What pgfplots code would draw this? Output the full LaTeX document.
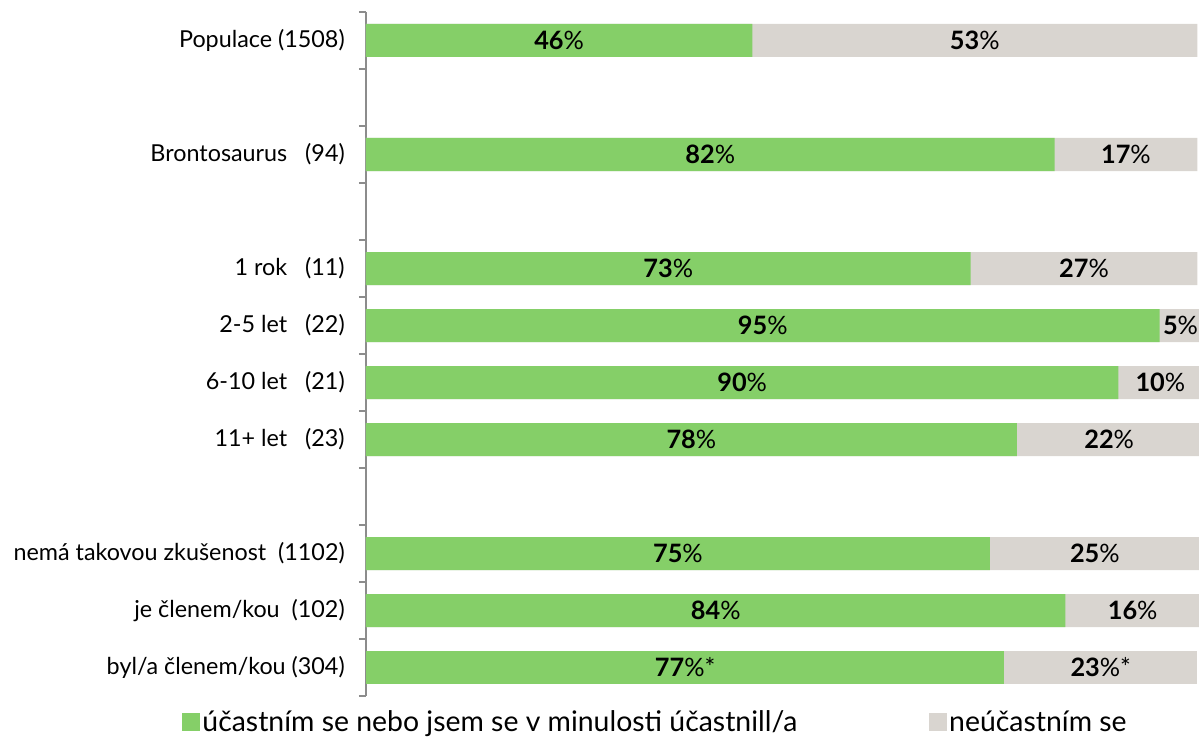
\documentclass[border=0pt]{standalone}
\usepackage{fontspec}
\setmainfont{Lato}
\usepackage{pgfplots}
\usepackage{pgfplotstable}
\pgfplotsset{compat=1.18}
\definecolor{cgreen}{RGB}{133,207,104}
\definecolor{cgray}{RGB}{217,213,208}
\definecolor{caxis}{RGB}{140,140,140}

% y = row position, g/r = bar lengths, gl/rl = printed labels
\pgfplotstableread{
y g r gl rl
0 46.0 53 46 53
2 82.0 17 82 17
4 72.0 27 73 27
5 94.5 5 95 5
6 89.6 10 90 10
7 77.5 22 78 22
9 74.3 25 75 25
10 83.3 16 84 16
}\data
% the row marked with an asterisk
\pgfplotstableread{
y g r gl rl
11 76.0 23 77 23
}\datastar

\begin{document}
\begin{tikzpicture}
\useasboundingbox (-274.5pt,-31.5pt) rectangle (624.75pt,522pt);
\begin{axis}[at={(0,0)}, anchor=south west, scale only axis,
  width=624.75pt, height=513pt,
  xmin=0, xmax=99.2, ymin=-0.5, ymax=11.5, y dir=reverse,
  axis x line=none, axis y line*=left,
  ytick={0,2,4,5,6,7,9,10,11},
  yticklabels={Populace (1508), Brontosaurus\ \ \ (94), 1 rok\ \ \ (11), 2-5 let\ \ \ (22), 6-10 let\ \ \ (21), 11+ let\ \ \ (23), nemá takovou zkušenost\ \ (1102), je členem/kou\ \ (102), byl/a členem/kou (304)},
  minor ytick={-0.5,0.5,...,11.5},
  major tick length=0pt, minor tick length=5.25pt, tick align=outside,
  y axis line style={draw=caxis, line width=1.1pt},
  every tick/.style={draw=caxis, line width=1.1pt},
  yticklabel style={font=\fontsize{17.5}{20}\selectfont, anchor=east, inner sep=0pt, xshift=-15.75pt},
  legend style={at={(0.348,-0.038)}, anchor=center, legend columns=2, draw=none, fill=none,
    font=\fontsize{21.3}{25}\selectfont,
    /tikz/every even column/.append style={column sep=97pt}},
  legend image code/.code={\fill[#1] (0pt,-6.6pt) rectangle (13pt,6.6pt);},
  mybar/.style={xbar, bar shift=0pt, bar width=24.75pt, draw=none},
  mylab/.style={only marks, mark=none, point meta=explicit,
    nodes near coords={\textbf{\pgfmathprintnumber[assume math mode=true]{\pgfplotspointmeta}}\%#1},
    every node near coord/.append style={anchor=center, font=\fontsize{19}{22}\selectfont}},
]
\addlegendimage{fill=cgreen, draw=none}
\addlegendentry{účastním se nebo jsem se v minulosti účastnill/a}
\addlegendimage{fill=cgray, draw=none}
\addlegendentry{neúčastním se}
% green segment from 0 to g, grey segment from g to g+r
\addplot[mybar, fill=cgray, forget plot] table[x expr=\thisrow{g}+\thisrow{r}, y=y] {\data};
\addplot[mybar, fill=cgray, forget plot] table[x expr=\thisrow{g}+\thisrow{r}, y=y] {\datastar};
\addplot[mybar, fill=cgreen, forget plot] table[x=g, y=y] {\data};
\addplot[mybar, fill=cgreen, forget plot] table[x=g, y=y] {\datastar};
% labels centred in each segment
\addplot[mylab={}, forget plot] table[x expr=\thisrow{g}/2, y=y, meta=gl] {\data};
\addplot[mylab={}, forget plot] table[x expr=\thisrow{g}+\thisrow{r}/2, y=y, meta=rl] {\data};
\addplot[mylab={*}, forget plot] table[x expr=\thisrow{g}/2, y=y, meta=gl] {\datastar};
\addplot[mylab={*}, forget plot] table[x expr=\thisrow{g}+\thisrow{r}/2, y=y, meta=rl] {\datastar};
\end{axis}
\end{tikzpicture}
\end{document}
